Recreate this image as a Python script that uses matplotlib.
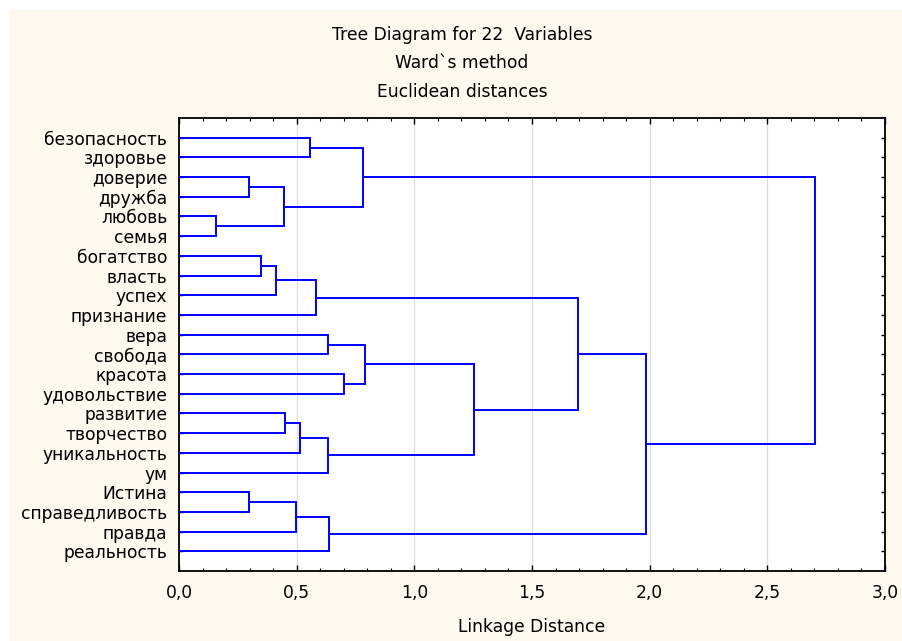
import matplotlib
matplotlib.use("Agg")
import matplotlib.pyplot as plt
from matplotlib.patches import Rectangle
from matplotlib.ticker import MultipleLocator, FuncFormatter

plt.rcParams['font.family'] = ['DejaVu Sans']

# leaves, top to bottom
labels = ["безопасность", "здоровье", "доверие", "дружба", "любовь", "семья",
          "богатство", "власть", "успех", "признание", "вера", "свобода",
          "красота", "удовольствие", "развитие", "творчество", "уникальность",
          "ум", "Истина", "справедливость", "правда", "реальность"]

# merges: (child a, child b, linkage distance); new node ids start at 22
merge_a = [4, 2, 18, 6, 25, 23, 14, 24, 28, 0, 26, 10, 30, 29, 12, 31, 33, 38, 32, 40, 37]
merge_b = [5, 3, 19, 7, 8, 22, 15, 20, 16, 1, 9, 11, 17, 21, 13, 27, 36, 34, 39, 35, 41]
heights = [0.157, 0.299, 0.299, 0.348, 0.412, 0.445, 0.449, 0.499, 0.516, 0.557,
           0.584, 0.632, 0.635, 0.639, 0.700, 0.781, 0.792, 1.255, 1.696, 1.985, 2.704]

cream = "#fdf9ef"
blue = "#0000ff"
fs = 12.3

fig = plt.figure(figsize=(9.02, 6.41), dpi=100, facecolor="white")
fig.patches.append(Rectangle((9 / 902, 0), 1, 1 - 10 / 641, transform=fig.transFigure,
                             facecolor=cream, edgecolor="none", zorder=-10))
ax = fig.add_axes([179 / 902, 1 - 571 / 641, 706 / 902, 453 / 641])
ax.set_facecolor("white")

# node positions: leaves at 1..22, clusters at midpoint of children
ypos = {i: i + 1 for i in range(len(labels))}
xpos = {i: 0.0 for i in range(len(labels))}
for k, (a, b, h) in enumerate(zip(merge_a, merge_b, heights)):
    node = len(labels) + k
    ax.plot([xpos[a], h, h, xpos[b]], [ypos[a], ypos[a], ypos[b], ypos[b]],
            color=blue, lw=1.4, solid_joinstyle="miter", zorder=3)
    ypos[node] = (ypos[a] + ypos[b]) / 2
    xpos[node] = h

ax.set_xlim(0, 3.0)
ax.set_ylim(len(labels) + 1, 0)
ax.set_yticks(range(1, len(labels) + 1))
ax.set_yticklabels(labels)
ax.xaxis.set_major_locator(MultipleLocator(0.5))
ax.xaxis.set_minor_locator(MultipleLocator(0.1))
ax.xaxis.set_major_formatter(FuncFormatter(lambda v, p: f"{v:.1f}".replace(".", ",")))
ax.grid(axis="x", color="#dddddd", lw=0.9, zorder=0)
ax.tick_params(axis="both", which="both", direction="in", top=True, right=True,
               labelsize=fs, colors="black")
ax.tick_params(axis="x", which="major", length=4, width=1, pad=9)
ax.tick_params(axis="x", which="minor", length=2, width=0.8)
ax.tick_params(axis="y", length=3, width=1, pad=8.5)
for s in ax.spines.values():
    s.set_linewidth(1.3)

ax.set_xlabel("Linkage Distance", fontsize=fs, labelpad=12)

fig.text(462 / 902, 1 - 35 / 641, "Tree Diagram for 22  Variables", ha="center", va="center", fontsize=fs)
fig.text(462 / 902, 1 - 63 / 641, "Ward`s method", ha="center", va="center", fontsize=fs)
fig.text(462 / 902, 1 - 92 / 641, "Euclidean distances", ha="center", va="center", fontsize=fs)

fig.savefig("out.png", dpi=100, facecolor=fig.get_facecolor())
